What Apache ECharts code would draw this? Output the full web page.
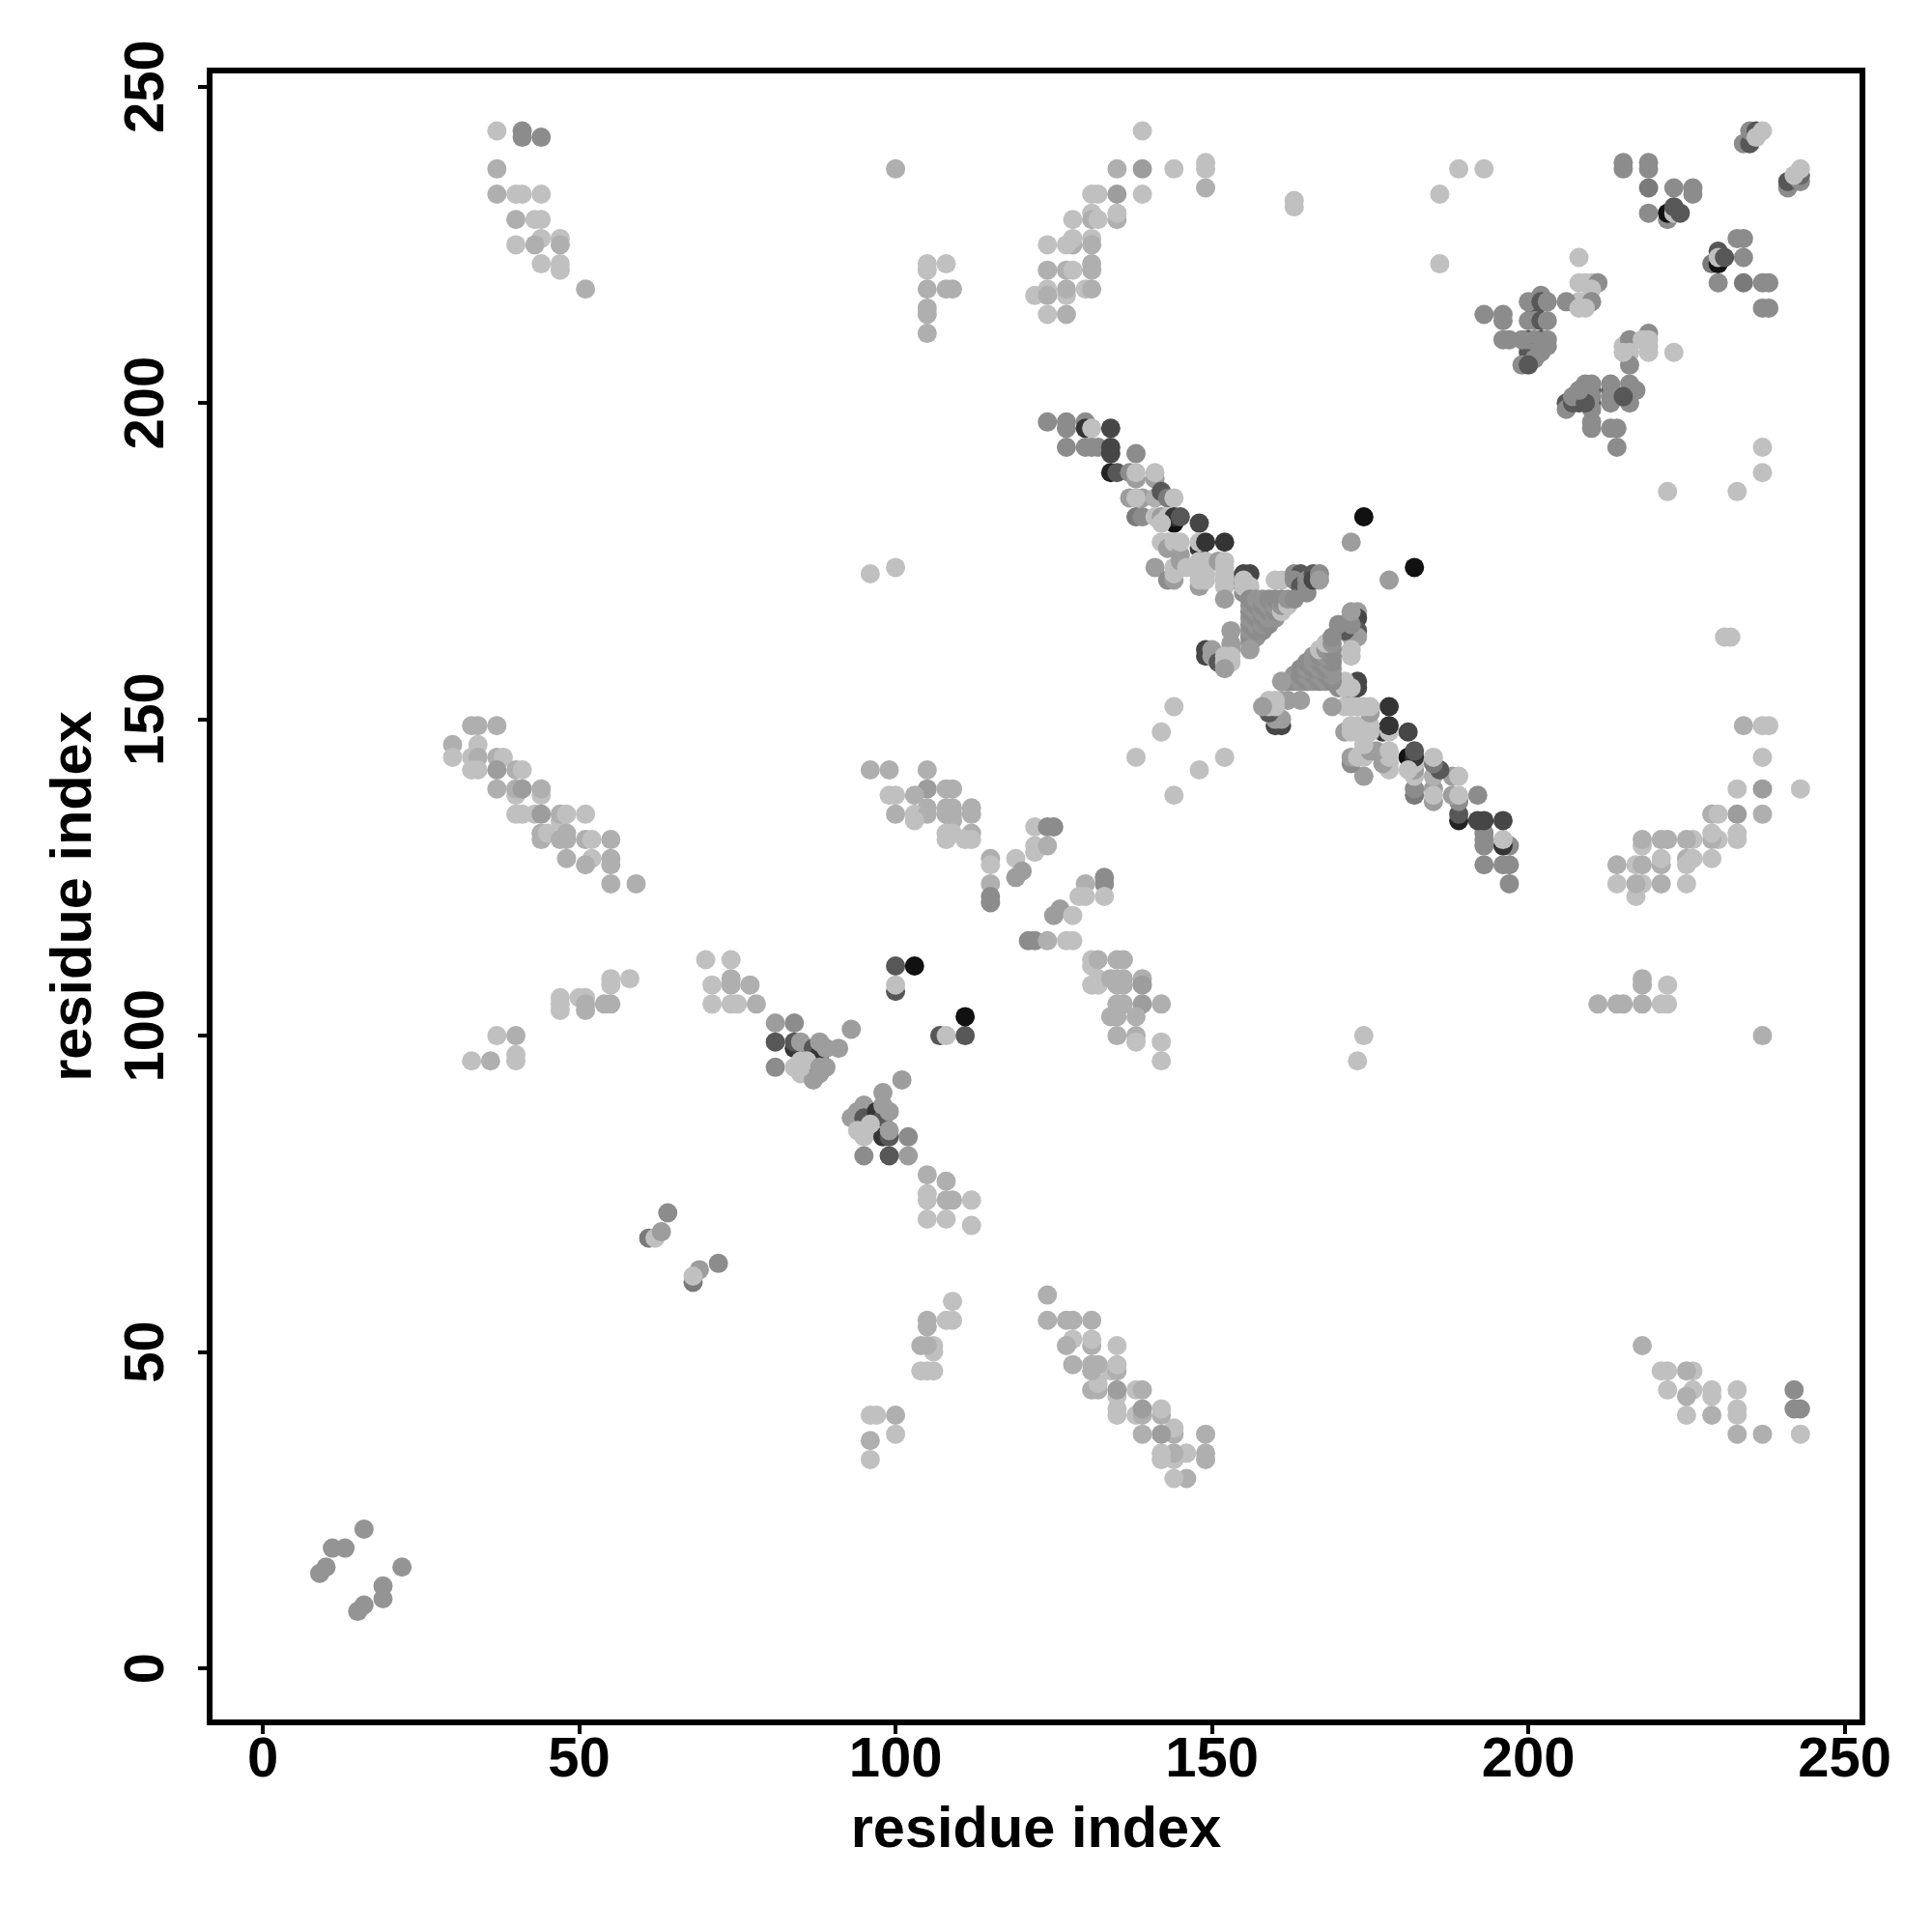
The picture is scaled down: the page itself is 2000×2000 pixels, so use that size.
<!DOCTYPE html>
<html><head><meta charset="utf-8">
<style>html,body{margin:0;padding:0;background:#fff}#c{width:2000px;height:2000px}</style>
<script src="https://cdn.jsdelivr.net/npm/echarts@6/dist/echarts.min.js"></script>
</head><body><div id="c"></div>
<script>
// Each contact: [residue i, residue j, strength 0 (weak) .. 10 (strong)]. The map is symmetric.
const tickValues = [0, 50, 100, 150, 200, 250];
const axisName = 'residue index';
const nearStart = [[9,15,2.5],[10,16,2.5],[11,19,2.5],[13,19,2.5],[16,22,2.5],[61,68,4],[62,68,0],[63,69,2],[64,72,3]];
const second = [[68,61,4],[69,63,2],[68,62,0],[72,64,3]];
const sheetC = [[33,149,1],[34,149,1],[37,149,1],[30,146,1],[34,146,0],[30,144,0],[33,144,0],[34,144,1],[37,144,1],[38,144,0],[33,142,0],[34,142,0],[37,142,2],[40,142,1],[41,142,0],[37,139,1],[40,138,0],[40,139,1],[41,139,2],[44,138,0],[44,139,1],[40,135,0],[41,135,0],[43,135,0],[44,135,2],[47,134,0],[47,135,1],[48,135,0],[51,135,0],[44,131,1],[44,132,1],[45,132,0],[47,131,1],[48,131,1],[48,132,1],[51,131,1],[52,131,0],[55,131,1],[48,128,1],[52,128,0],[55,128,1],[51,127,1],[55,127,1],[55,124,1],[59,124,1]];
const sheetD = [[55,109,0],[58,109,0],[55,108,0],[47,106,0],[50,106,0],[51,106,0],[47,105,0],[51,105,1],[54,105,1],[55,105,1],[47,104,0],[51,104,1],[37,100,0],[40,100,1],[40,97,0],[33,96,0],[36,96,1],[40,96,0]];
const sheetE = [[37,243,0],[41,243,3],[41,242,3],[44,242,3],[37,237,1],[37,233,1],[40,233,0],[41,233,0],[44,233,0],[40,229,1],[43,229,0],[44,229,0],[44,226,0],[47,226,0],[40,225,0],[43,225,1],[47,225,1],[44,222,0],[47,222,0],[47,221,0],[51,218,1]];
const sheetF = [[100,237,1],[105,222,0],[105,221,0],[108,222,0],[105,218,1],[108,218,1],[109,218,1],[105,215,1],[105,214,1],[105,211,1],[139,243,0],[135,237,1],[139,237,2],[144,237,0],[149,238,0],[149,237,0],[149,234,1],[131,233,0],[132,233,0],[135,233,2],[139,233,0],[128,229,0],[131,230,0],[131,229,1],[132,229,0],[135,229,1],[135,230,0],[128,225,1],[127,225,0],[124,225,0],[128,226,0],[131,226,0],[131,225,1],[131,222,1],[124,221,1],[127,221,1],[128,221,0],[131,221,1],[122,217,0],[124,218,0],[124,217,1],[127,217,0],[127,218,1],[130,218,0],[131,218,1],[124,214,0],[127,214,1],[163,232,0],[163,231,0],[186,233,0],[186,222,0],[189,237,0],[193,237,0],[96,173,0],[100,174,0],[138,144,0],[142,148,0],[144,152,0]];
const helixTop = [[215,238,3],[215,237,3],[219,238,3],[219,237,3],[219,234,4],[223,234,3],[226,234,3],[226,233,3],[219,230,3],[222,229,3],[222,230,10],[223,230,0],[223,231,6],[224,230,6],[234,241,3],[235,241,6],[235,243,3],[236,243,6],[236,242,0],[237,243,0],[241,234,3],[241,235,6],[243,235,3],[243,236,5],[242,236,0],[243,237,0],[233,226,3],[234,226,3],[234,223,3],[229,222,4],[230,222,10],[230,224,6],[230,223,0],[231,223,6],[230,219,3],[234,219,4],[237,219,3],[238,219,3],[237,215,3],[238,215,3]];
const helixMid = [[208,223,0],[208,219,0],[209,219,0],[210,219,0],[211,219,3],[210,218,0],[208,216,0],[206,216,3],[210,216,3],[208,215,0],[209,215,0],[193,214,3],[196,214,3],[196,213,3],[196,210,3],[197,210,3],[201,215,6],[200,216,3],[202,217,3],[202,216,6],[203,216,3],[200,213,3],[201,213,3],[202,213,6],[203,213,3],[200,210,6],[202,210,6],[201,210,3],[203,210,3],[200,209,6],[201,209,3],[202,209,3],[203,209,3],[200,208,6],[201,208,3],[202,208,3],[200,207,6],[201,207,3],[199,206,3],[200,206,6],[215,209,0],[216,210,3],[219,211,3],[219,210,0],[219,209,0],[216,208,0],[219,208,0],[223,208,0],[216,206,3]];
const helixLow = [[206,200,6],[206,199,3],[207,200,6],[208,200,6],[207,201,3],[208,201,3],[209,201,3],[209,202,3],[209,203,3],[210,200,6],[210,202,6],[210,203,3],[210,201,3],[210,199,3],[213,202,6],[213,203,3],[213,201,3],[213,200,3],[216,202,6],[216,203,3],[216,200,3],[217,202,3],[210,197,3],[210,196,3],[213,196,3],[214,196,3],[214,193,3],[222,186,0],[233,186,0],[237,189,0],[237,193,0]];
const bandA = [[124,197,3],[127,197,3],[127,196,3],[130,197,3],[130,196,8],[131,196,0],[134,196,7],[127,193,3],[130,193,3],[131,193,3],[132,193,3],[134,193,7],[134,192,7],[138,192,3],[134,189,9],[135,189,6],[137,189,3],[138,188,2],[138,189,0],[141,188,2],[141,189,0],[137,185,2],[139,185,2],[138,185,0],[141,185,1],[142,186,6],[143,185,4],[144,185,0],[138,182,4],[139,182,3],[141,182,0],[142,182,2],[143,182,0],[144,181,10],[144,182,8],[145,182,6],[148,181,7]];
const bandB = [[142,181,0],[141,174,2],[143,172,3],[145,174,2],[144,172,2],[144,173,0],[144,174,0],[142,178,0],[143,178,0],[143,177,2],[144,177,2],[144,178,0],[145,175,2],[145,176,2],[145,178,0],[146,174,0],[148,177,8],[148,178,0],[149,178,8],[152,178,8],[148,171,2],[148,172,0],[149,172,0],[148,173,0],[149,173,0],[148,174,0],[149,174,0],[148,175,0],[149,175,0],[151,175,2],[153,172,3],[152,175,0],[152,174,0],[152,173,0],[152,172,0],[152,171,0],[152,169,2],[155,173,7],[156,173,7],[155,170,3],[155,172,0],[155,171,0],[156,171,0],[160,172,0],[161,172,0],[163,173,3],[164,173,6],[164,172,6],[163,172,3],[164,171,6],[165,172,3],[165,171,3],[165,170,3],[166,173,6],[166,172,7],[167,173,3],[167,172,2]];
const triangle = [[156,162,2.5],[156,163,3],[156,164,2.5],[156,165,3],[156,166,2.5],[156,167,3],[156,168,2.5],[156,169,3],[157,163,2.5],[157,164,3],[157,165,2.5],[157,166,3],[157,167,2.5],[157,168,3],[157,169,2.5],[158,164,3],[158,165,2.5],[158,166,3],[158,167,2.5],[158,168,3],[158,169,2.5],[159,165,3],[159,166,2.5],[159,167,3],[159,168,2.5],[159,169,3],[160,166,2.5],[160,167,3],[160,168,2.5],[160,169,3],[161,167,0],[161,168,2.5],[161,169,3],[162,168,0],[162,169,2.5],[163,169,3],[156,161,2]];
const bandC = [[153,164,2],[153,162,2],[149,161,7],[149,160,7],[150,161,2],[150,160,2],[151,159,6],[153,161,2],[152,160,0],[153,160,0],[152,159,0],[153,159,0],[152,158,2]];
const loopG = [[96,142,1],[99,142,1],[105,142,1],[105,139,2],[108,139,1],[109,139,1],[99,138,0],[100,138,0],[103,138,1],[105,136,1],[108,136,1],[109,136,1],[112,136,1],[100,135,1],[103,135,0],[105,135,1],[108,135,1],[109,135,1],[112,135,1],[103,134,0],[109,134,1],[108,132,0],[109,132,0],[112,132,1],[108,131,0],[111,131,0],[112,131,0],[122,133,0],[124,133,3],[125,133,3],[122,130,0],[122,129,0],[124,130,1],[115,128,1],[115,127,0],[119,128,0],[119,125,2],[120,126,2],[115,124,1],[115,122,3],[115,121,3],[133,125,3],[133,124,3],[130,124,1],[129,122,0],[130,122,0],[133,122,0],[125,119,2],[126,120,2],[128,119,0],[121,115,3],[122,115,3],[124,115,1],[127,115,0],[128,115,0]];
const loopH = [[131,112,0],[131,111,0],[132,112,1],[135,112,1],[136,112,1],[132,109,0],[135,109,1],[136,109,1],[139,109,1],[131,108,0],[132,108,0],[135,108,1],[136,108,1],[139,108,2],[135,105,1],[136,105,1],[139,105,2],[142,105,1],[134,103,1],[135,103,1],[138,103,1],[135,100,1],[138,100,1],[138,99,0],[142,99,0],[142,96,0]];
const loopI = [[70,112,0],[74,112,0],[74,109,1],[71,108,0],[74,108,1],[77,108,1],[71,105,0],[74,105,0],[75,105,0],[78,105,1],[100,111,6],[103,111,10],[100,107,6],[100,108,0],[107,100,6],[108,100,0],[111,100,6],[111,103,10],[174,182,10],[172,178,2],[173,167,2]];
const turnJ = [[81,102,2],[84,102,3],[93,101,2],[81,99,6],[84,98,8],[84,99,6],[85,99,2],[87,98,6],[88,97,8],[88,99,2],[89,98,2],[91,98,2],[85,96,0],[81,95,3],[84,95,0],[85,94,0],[87,95,6],[87,93,2],[88,94,2],[89,95,2],[86,96,0]];
const turnK = [[93,87,2],[94,88,2],[95,89,2],[95,88,2],[95,87,6],[97,88,8],[98,87,6],[98,91,2],[98,89,2],[99,88,2],[94,85,0],[95,85,0],[95,84,0],[96,85,0]];
const corner = [[172,166,7],[173,166,7],[171,165,2],[172,164,7],[173,164,6],[172,163,2],[173,163,2],[172,160,0],[172,161,0]];
const allGroups = [nearStart, second, sheetC, sheetD, sheetE, sheetF, helixTop, helixMid, helixLow, bandA, bandB, triangle, bandC, loopG, loopH, loopI, turnJ, turnK, corner];

const points = [];
allGroups.forEach(g => g.forEach(p => { points.push(p); }));
const seen = new Set(points.map(p => p[0] + ',' + p[1]));
const mirrored = [];
points.forEach(p => { if (!seen.has(p[1] + ',' + p[0])) mirrored.push([p[1], p[0], p[2]]); });
const data = points.concat(mirrored);

const chart = echarts.init(document.getElementById('c'), null, {renderer: 'canvas'});
const font = {fontFamily: '"Liberation Sans", Arial, sans-serif', fontWeight: 'bold', fontSize: 58, color: '#000'};
const nameFont = Object.assign({}, font, {fontSize: 59.5});
const axisCommon = {
  type: 'value', min: -8.4, splitLine: {show: false},
  axisLine: {show: false, onZero: false},
  axisTick: {show: true, customValues: tickValues, length: 12, lineStyle: {color: '#000', width: 4}},
  name: axisName, nameLocation: 'middle', nameTextStyle: nameFont
};
chart.setOption({
  animation: false, backgroundColor: '#fff',
  grid: {left: 217, top: 73, width: 1711, height: 1710, show: true, borderColor: '#000', borderWidth: 6, backgroundColor: 'transparent'},
  xAxis: Object.assign({}, axisCommon, {max: 252.8, nameGap: 83,
    axisLabel: Object.assign({}, font, {customValues: tickValues, margin: 11, hideOverlap: false, formatter: v => String(v)})}),
  yAxis: Object.assign({}, axisCommon, {min: -8.55, max: 252.55, nameGap: 109,
    axisLabel: Object.assign({}, font, {customValues: tickValues, rotate: 90, margin: 35, hideOverlap: false, formatter: v => String(v)})}),
  visualMap: {show: false, type: 'continuous', dimension: 2, min: 0, max: 10, seriesIndex: 0, inRange: {color: ['#c0c0c0', '#111111']}},
  series: [{type: 'scatter', data: data, symbol: 'circle', symbolSize: 20, clip: false, itemStyle: {opacity: 1}}]
});
</script></body></html>
